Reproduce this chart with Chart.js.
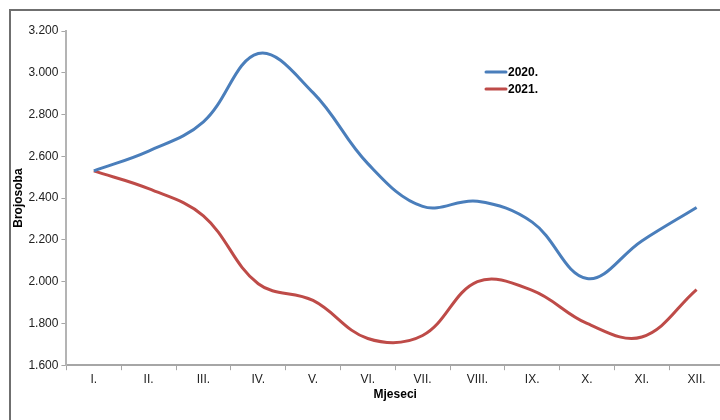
<!DOCTYPE html>
<html>
<head>
<meta charset="utf-8">
<script src="https://cdn.jsdelivr.net/npm/chart.js@4.4.0/dist/chart.umd.min.js"></script>
<style>
    html, body { margin: 0; padding: 0; background: #fff; overflow: hidden; }
    #wrap { position: relative; width: 724px; height: 420px; }
</style>
</head>
<body>
<div id="wrap"><canvas id="lineChart" width="724" height="420"></canvas></div>
<script>
// mjeseci i broj osoba
const months = ['I.', 'II.', 'III.', 'IV.', 'V.', 'VI.', 'VII.', 'VIII.', 'IX.', 'X.', 'XI.', 'XII.'];
const values2020 = [2530, 2625, 2765, 3092, 2905, 2565, 2360, 2385, 2285, 2015, 2195, 2355];
const values2021 = [2530, 2445, 2315, 1990, 1910, 1728, 1742, 2000, 1958, 1800, 1735, 1962];
const seriesLabels = ['2020.', '2021.'];
const yTicks = { min: 1600, max: 3200, step: 200 };

const FONT = '"Liberation Sans", Arial, sans-serif';

// okvir oko grafikona
const framePlugin = {
    id: 'frame',
    afterDraw: function(chart) {
        const ctx = chart.ctx;
        ctx.save();
        ctx.strokeStyle = '#6f6f6f';
        ctx.lineWidth = 2;
        ctx.strokeRect(10, 10, chart.width + 20, chart.height + 20);
        ctx.restore();
    }
};

// legenda unutar grafikona
const legendPlugin = {
    id: 'innerLegend',
    afterDatasetsDraw: function(chart) {
        const ctx = chart.ctx;
        ctx.save();
        ctx.font = 'bold 12px ' + FONT;
        ctx.textBaseline = 'middle';
        chart.data.datasets.forEach((ds, i) => {
            const y = 72 + i * 17;
            ctx.strokeStyle = ds.borderColor;
            ctx.lineWidth = 3;
            ctx.lineCap = 'round';
            ctx.beginPath();
            ctx.moveTo(486, y);
            ctx.lineTo(506, y);
            ctx.stroke();
            ctx.fillStyle = '#000';
            ctx.fillText(ds.label, 508, y + 1);
        });
        ctx.restore();
    }
};

const ctx = document.getElementById('lineChart').getContext('2d');
new Chart(ctx, {
    type: 'line',
    data: {
        labels: months,
        datasets: [
            {
                label: seriesLabels[0],
                data: values2020,
                borderColor: '#4a7ebb',
                borderWidth: 3,
                pointRadius: 0,
                tension: 0.38,
                fill: false
            },
            {
                label: seriesLabels[1],
                data: values2021,
                borderColor: '#be4b48',
                borderWidth: 3,
                pointRadius: 0,
                tension: 0.38,
                fill: false
            }
        ]
    },
    options: {
        responsive: false,
        animation: false,
        devicePixelRatio: 1,
        layout: { padding: { left: 11, top: 31, right: 0, bottom: 18 } },
        plugins: {
            legend: { display: false },
            tooltip: { enabled: false }
        },
        scales: {
            x: {
                offset: true,
                grid: {
                    offset: true,
                    drawOnChartArea: false,
                    drawTicks: true,
                    tickLength: 5,
                    color: '#a6a6a6'
                },
                border: { color: '#a6a6a6', width: 2 },
                ticks: {
                    color: '#222',
                    font: { family: FONT, size: 12 },
                    padding: 2,
                    maxRotation: 0
                },
                title: {
                    display: true,
                    text: 'Mjeseci',
                    color: '#000',
                    font: { family: FONT, size: 12, weight: 'bold' },
                    padding: { top: -1, bottom: 0 }
                }
            },
            y: {
                min: yTicks.min,
                max: yTicks.max,
                grid: {
                    drawOnChartArea: false,
                    drawTicks: true,
                    tickLength: 5,
                    color: '#a6a6a6'
                },
                border: { color: '#b4b4b4', width: 2 },
                ticks: {
                    stepSize: yTicks.step,
                    color: '#222',
                    font: { family: FONT, size: 12 },
                    padding: 3,
                    callback: function(value) {
                        return String(value).replace(/\B(?=(\d{3})+(?!\d))/g, '.');
                    }
                },
                title: {
                    display: true,
                    text: 'Brojosoba',
                    color: '#000',
                    font: { family: FONT, size: 12, weight: 'bold' },
                    padding: { top: 0, bottom: 0 }
                }
            }
        }
    },
    plugins: [framePlugin, legendPlugin]
});
</script>
</body>
</html>
